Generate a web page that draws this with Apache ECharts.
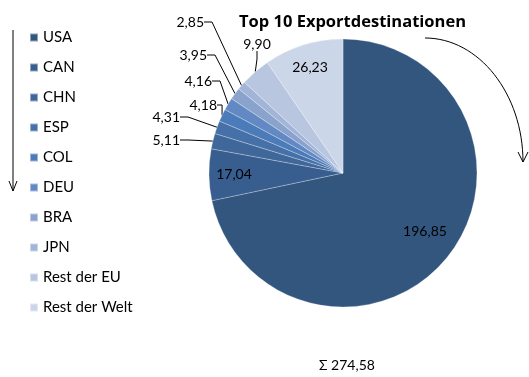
<!DOCTYPE html>
<html>
<head>
<meta charset="utf-8">
<script src="https://cdn.jsdelivr.net/npm/echarts@6/dist/echarts.min.js"></script>
<style>
  html, body { margin: 0; padding: 0; background: #fff; }
  #chart { width: 529px; height: 377px; }
</style>
</head>
<body>
<div id="chart"></div>
<script>
// export volumes per destination (clockwise from 12 o'clock)
const countries = ["USA", "CAN", "CHN", "ESP", "COL", "DEU", "BRA", "JPN", "Rest der EU", "Rest der Welt"];
const values = [196.85, 17.04, 5.11, 4.31, 4.18, 4.16, 3.95, 2.85, 9.90, 26.23];
const colors = ["#33567f", "#385e8f", "#3f6799", "#4670a8", "#4b7bb8", "#6289c3", "#89a3cd", "#a2b4d7", "#b9c6e0", "#ccd6e9"];
const insideLabels = ["USA", "CAN", "Rest der Welt"];

const total = values.reduce((a, b) => a + b, 0);
const fmt = v => v.toFixed(2).replace(".", ",");

// where the value labels sit (x, y, text alignment)
const labelSpots = {
  "USA": [425, 231, "center"],
  "CAN": [234, 174, "center"],
  "CHN": [180, 140, "right"],
  "ESP": [180, 117, "right"],
  "COL": [217, 105, "right"],
  "DEU": [212, 81, "right"],
  "BRA": [207, 55, "right"],
  "JPN": [204, 22, "right"],
  "Rest der EU": [257, 44, "center"],
  "Rest der Welt": [310, 67, "center"]
};

const font = "Lato, 'Open Sans', sans-serif";

let chart = echarts.init(document.getElementById("chart"));
chart.setOption({
  animation: false,
  color: colors,
  title: {
    text: "Top 10 Exportdestinationen",
    left: 234,
    top: 9,
    textStyle: { fontFamily: "'Open Sans', sans-serif", fontWeight: "bold", fontSize: 16.5, color: "#000" }
  },
  legend: {
    orient: "vertical",
    left: 24,
    top: 25,
    itemWidth: 8,
    itemHeight: 8,
    itemGap: 15,
    icon: "rect",
    data: countries,
    textStyle: { fontFamily: font, fontSize: 15, color: "#000" }
  },
  series: [{
    type: "pie",
    center: [343, 173],
    radius: 134,
    startAngle: 90,
    clockwise: true,
    avoidLabelOverlap: false,
    itemStyle: { borderColor: "rgba(255,255,255,0.45)", borderWidth: 0.6 },
    label: {
      show: true,
      position: "outside",
      fontFamily: font,
      fontSize: 14,
      color: "#000",
      formatter: p => fmt(p.value)
    },
    labelLine: {
      show: true,
      length: 6,
      length2: 8,
      smooth: false,
      lineStyle: { color: "#000", width: 1 }
    },
    labelLayout: function (p) {
      const s = labelSpots[countries[p.dataIndex]];
      return { x: s[0], y: s[1], align: s[2], verticalAlign: "middle" };
    },
    emphasis: { disabled: true },
    data: countries.map((c, i) => {
      const d = { name: c, value: values[i] };
      if (insideLabels.indexOf(c) >= 0) {
        d.label = { position: "inside" };
        d.labelLine = { show: false };
      }
      return d;
    })
  }],
  graphic: [
    // left arrow
    { type: "line", shape: { x1: 13, y1: 30, x2: 13, y2: 191 }, style: { stroke: "#000", lineWidth: 1 } },
    { type: "polyline", shape: { points: [[9, 181], [13, 191], [17, 181]] }, style: { stroke: "#000", lineWidth: 1, fill: null } },
    // curved arrow at the right
    { type: "bezierCurve", shape: { x1: 425, y1: 38, cpx1: 479, cpy1: 38, cpx2: 523, cpy2: 94, x2: 523, y2: 162 },
      style: { stroke: "#000", lineWidth: 1, fill: null } },
    { type: "polyline", shape: { points: [[518, 152], [523, 162], [528, 152]] }, style: { stroke: "#000", lineWidth: 1, fill: null } },
    // total
    { type: "text", left: 319, top: 358,
      style: { text: "Σ " + fmt(total), font: "14px " + font, fill: "#000" } }
  ]
});
</script>
</body>
</html>
